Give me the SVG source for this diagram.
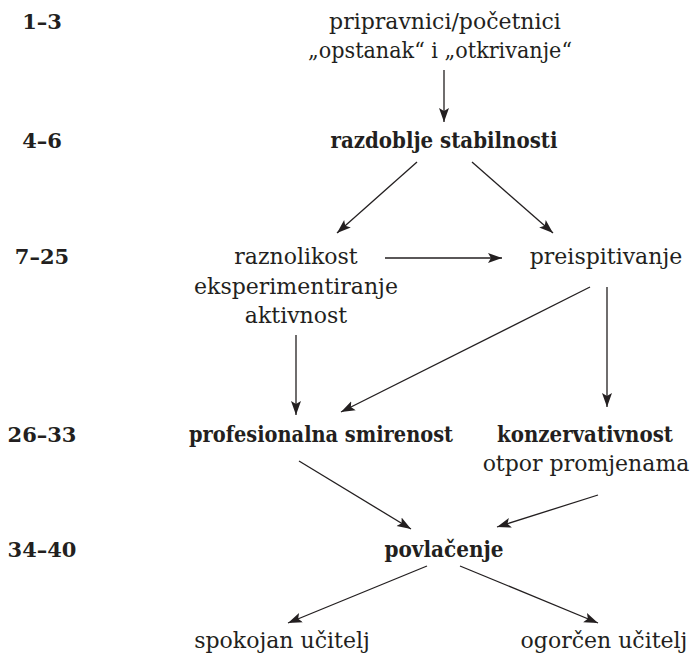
<svg xmlns="http://www.w3.org/2000/svg" width="690" height="663" viewBox="0 0 690 663">
<style>
text{font-family:"DejaVu Serif","Liberation Serif",serif;font-size:22px;fill:#231f20}
.b{font-weight:bold;font-stretch:condensed}
.c{text-anchor:middle}
.lab{font-weight:bold;font-size:21px;text-anchor:middle}
.e{stroke:#231f20;stroke-width:1.3;fill:none;marker-end:url(#ah)}
</style>
<defs>
<marker id="ah" markerUnits="userSpaceOnUse" markerWidth="16" markerHeight="12" refX="14" refY="5" orient="auto" viewBox="0 0 16 10">
<path d="M0,0 L14,5 L0,10 L3,5 Z" fill="#231f20"/>
</marker>
</defs>
<rect width="690" height="663" fill="#fff"/>
<g id="labels">
<text class="lab" x="42" y="29">1–3</text>
<text class="lab" x="42" y="148">4–6</text>
<text class="lab" x="42" y="264">7–25</text>
<text class="lab" x="42" y="442">26–33</text>
<text class="lab" x="42" y="557">34–40</text>
</g>
<g id="n1"><text class="c" x="445" y="29">pripravnici/početnici</text><text class="c" x="440" y="58" textLength="264" lengthAdjust="spacingAndGlyphs">„opstanak“ i „otkrivanje“</text></g>
<g id="n2"><text class="c b" x="444" y="148" textLength="227" lengthAdjust="spacingAndGlyphs">razdoblje stabilnosti</text></g>
<g id="n3"><text class="c" x="296" y="264">raznolikost</text><text class="c" x="296" y="294">eksperimentiranje</text><text class="c" x="296" y="323">aktivnost</text></g>
<g id="n4"><text class="c" x="606" y="264">preispitivanje</text></g>
<g id="n5"><text class="c b" x="321" y="442" textLength="264" lengthAdjust="spacingAndGlyphs">profesionalna smirenost</text></g>
<g id="n6"><text class="c b" x="585" y="442" textLength="176" lengthAdjust="spacingAndGlyphs">konzervativnost</text><text class="c" x="586" y="471">otpor promjenama</text></g>
<g id="n7"><text class="c b" x="444" y="557" textLength="119" lengthAdjust="spacingAndGlyphs">povlačenje</text></g>
<g id="n8"><text class="c" x="282" y="648">spokojan učitelj</text></g>
<g id="n9"><text class="c" x="604" y="648">ogorčen učitelj</text></g>
<g id="connectors">
<line class="e" x1="444" y1="70" x2="444" y2="122"/>
<line class="e" x1="417" y1="162" x2="337" y2="233"/>
<line class="e" x1="472" y1="162" x2="553" y2="233"/>
<line class="e" x1="385" y1="258" x2="502" y2="258"/>
<line class="e" x1="296" y1="335" x2="296" y2="415"/>
<line class="e" x1="590" y1="287" x2="341" y2="412"/>
<line class="e" x1="607" y1="287" x2="607" y2="407"/>
<line class="e" x1="299" y1="461" x2="411" y2="529"/>
<line class="e" x1="598" y1="495" x2="497" y2="527"/>
<line class="e" x1="427" y1="566" x2="288" y2="623"/>
<line class="e" x1="460" y1="566" x2="598" y2="623"/>
</g>
</svg>
